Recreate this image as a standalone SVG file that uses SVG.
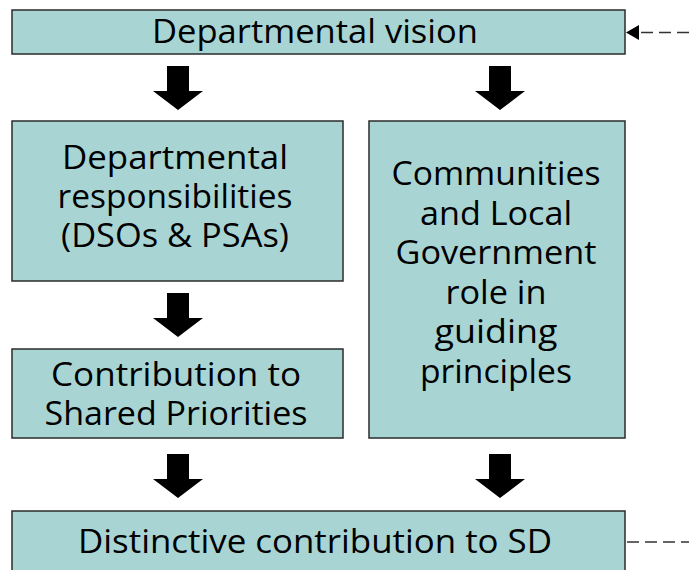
<svg xmlns="http://www.w3.org/2000/svg" width="689" height="570" viewBox="0 0 689 570">
  <defs>
    <style>
      .box { fill: #a8d5d3; stroke: #2b2b2b; stroke-width: 1.5; }
      .lbl { font-family: "Open Sans", "Liberation Sans", Arial, sans-serif; font-size: 32px; fill: #000; text-anchor: middle; }
      .flow { fill: #000; }
      .dash { stroke: #333; stroke-width: 1.7; stroke-dasharray: 12 6; fill: none; }
    </style>
    <!-- thick block arrow pointing down, origin at its tip -->
    <path id="blockArrow" d="M-11,-44 H11 V-19 H25 L0,0 L-25,-19 H-11 Z"/>
  </defs>
  <rect width="689" height="570" fill="#fff"/>

  <g id="vision">
    <rect class="box" x="12" y="10" width="613" height="44"/>
    <text class="lbl" x="315" y="43" textLength="326" lengthAdjust="spacingAndGlyphs">Departmental vision</text>
  </g>

  <g id="responsibilities">
    <rect class="box" x="12" y="121" width="331" height="160"/>
    <text class="lbl" x="175" y="169" textLength="226" lengthAdjust="spacingAndGlyphs">Departmental</text>
    <text class="lbl" x="175" y="208" textLength="235" lengthAdjust="spacingAndGlyphs">responsibilities</text>
    <text class="lbl" x="175" y="247" textLength="228" lengthAdjust="spacingAndGlyphs">(DSOs &amp; PSAs)</text>
  </g>

  <g id="communities">
    <rect class="box" x="369" y="121" width="256" height="317"/>
    <text class="lbl" x="496" y="185" textLength="209" lengthAdjust="spacingAndGlyphs">Communities</text>
    <text class="lbl" x="496" y="225" textLength="152" lengthAdjust="spacingAndGlyphs">and Local</text>
    <text class="lbl" x="496" y="264" textLength="201" lengthAdjust="spacingAndGlyphs">Government</text>
    <text class="lbl" x="496" y="304" textLength="101" lengthAdjust="spacingAndGlyphs">role in</text>
    <text class="lbl" x="496" y="343" textLength="123" lengthAdjust="spacingAndGlyphs">guiding</text>
    <text class="lbl" x="496" y="383" textLength="152" lengthAdjust="spacingAndGlyphs">principles</text>
  </g>

  <g id="shared">
    <rect class="box" x="12" y="349" width="331" height="89"/>
    <text class="lbl" x="176" y="386" textLength="250" lengthAdjust="spacingAndGlyphs">Contribution to</text>
    <text class="lbl" x="176" y="425" textLength="263" lengthAdjust="spacingAndGlyphs">Shared Priorities</text>
  </g>

  <g id="distinctive">
    <rect class="box" x="12" y="511" width="613" height="70"/>
    <text class="lbl" x="315" y="553" textLength="474" lengthAdjust="spacingAndGlyphs">Distinctive contribution to SD</text>
  </g>

  <g id="connectors">
    <use href="#blockArrow" class="flow" x="178" y="110"/>
    <use href="#blockArrow" class="flow" x="500" y="110"/>
    <use href="#blockArrow" class="flow" x="178" y="337"/>
    <use href="#blockArrow" class="flow" x="178" y="498"/>
    <use href="#blockArrow" class="flow" x="500" y="498"/>
    <line class="dash" x1="689" y1="32.5" x2="639" y2="32.5"/>
    <path d="M626,32.5 L639,25 L639,40 Z" fill="#000"/>
    <line class="dash" x1="627" y1="542" x2="689" y2="542"/>
  </g>
</svg>
